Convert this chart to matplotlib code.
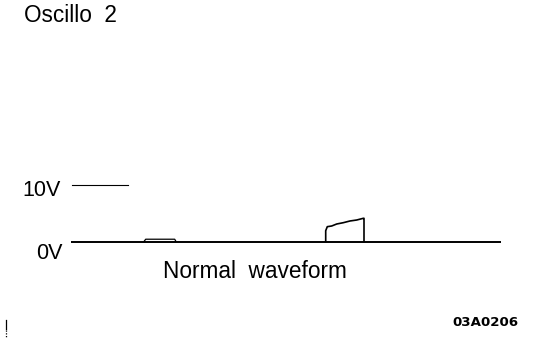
import matplotlib
matplotlib.use("Agg")
import matplotlib.pyplot as plt
from matplotlib.lines import Line2D

# ---- data (time in 0.1-division units, voltage in V) ----
baseline_t = [0.0, 43.0]
baseline_v = [0.0, 0.0]

bump_t = [7.33, 7.5, 10.4, 10.53]
bump_v = [0.0, 0.4, 0.4, 0.0]

pulse_t = [25.5, 25.5, 25.66, 26.1, 26.6, 27.26, 27.93, 28.6, 29.26, 29.33, 29.33]
pulse_v = [0.0, 1.89, 2.6, 2.72, 3.07, 3.3, 3.6, 3.77, 4.07, 4.07, 0.0]

ref_t = [0.1, 5.7]
ref_v = [10.0, 10.0]

title = "Oscillo  2"
level_labels = ["10V", "0V"]
caption = "Normal  waveform"
code = "03A0206"

W, H = 544, 344
fig = plt.figure(figsize=(W / 100, H / 100), dpi=100)
fig.patch.set_facecolor("white")
ax = fig.add_axes([0, 0, 1, 1])
ax.set_axis_off()

x0 = 70.7      # pixel x of t=0
px_t = 10.0    # pixels per time unit
y0 = 241.5     # pixel y (from top) of 0 V
px_v = 5.7     # pixels per volt
ax.set_xlim(-x0 / px_t, (W - x0) / px_t)
ax.set_ylim(-(H - y0) / px_v, y0 / px_v)

ax.plot(baseline_t, baseline_v, color="black", lw=1.4, solid_capstyle="butt")
ax.plot(bump_t, bump_v, color="black", lw=0.9)
ax.plot(pulse_t, pulse_v, color="black", lw=1.2)
ax.plot(ref_t, ref_v, color="black", lw=0.8)

def fx(px):
    return px / W

def fy(py):
    return 1 - py / H

font = "Liberation Sans"
fig.text(fx(23.5), fy(22), title, fontsize=16.3, family=font, ha="left", va="baseline")
fig.text(fx(61), fy(196.5), level_labels[0], fontsize=15.5, family=font, ha="right", va="baseline")
fig.text(fx(63), fy(259), level_labels[1], fontsize=15.5, family=font, ha="right", va="baseline")
fig.text(fx(163), fy(278.5), caption, fontsize=16.3, family=font, ha="left", va="baseline")
fig.text(fx(452), fy(326.5), code, fontsize=9.6, family="DejaVu Sans", weight="bold",
         ha="left", va="baseline")

# small margin mark at lower left
fig.add_artist(Line2D([fx(5.5), fx(5.5)], [fy(320), fy(329)], color="black", lw=0.9))
fig.add_artist(Line2D([fx(5.5), fx(5.5)], [fy(329.5), fy(337)], color="black", lw=0.9,
                      linestyle=(0, (1, 1.2))))

fig.savefig("out.png", dpi=100, facecolor="white")
